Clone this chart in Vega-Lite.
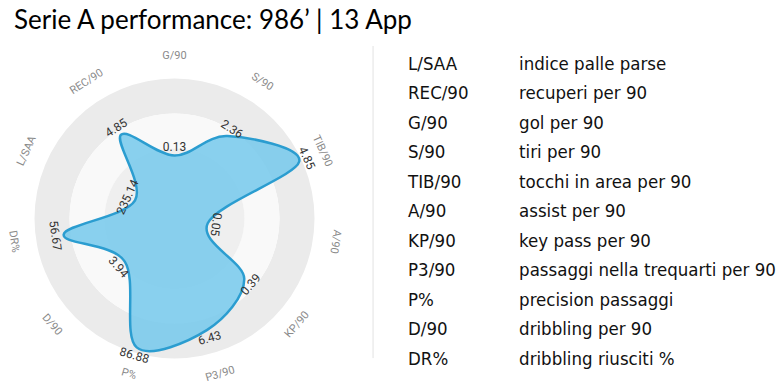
{
  "$schema": "https://vega.github.io/schema/vega-lite/v6.json",
  "autosize": {"type": "pad"},
  "padding": {"left": 1, "top": 8, "right": 0, "bottom": 0},
  "background": "white",
  "title": {"text": "Serie A performance: 986’ | 13 App", "anchor": "start", "font": "Lato", "fontSize": 26, "fontWeight": "normal", "color": "#000000", "offset": 11, "dx": 13},
  "config": {"view": {"stroke": null}},
  "datasets": {
    "radar": [
      {"idx": 0, "key": "G/90", "value": "0.13", "score": 0.45},
      {"idx": 1, "key": "S/90", "value": "2.36", "score": 0.70},
      {"idx": 2, "key": "TIB/90", "value": "4.85", "score": 0.98},
      {"idx": 3, "key": "A/90", "value": "0.05", "score": 0.24},
      {"idx": 4, "key": "KP/90", "value": "0.39", "score": 0.66},
      {"idx": 5, "key": "P3/90", "value": "6.43", "score": 0.83},
      {"idx": 6, "key": "P%", "value": "86.88", "score": 0.96},
      {"idx": 7, "key": "D/90", "value": "3.94", "score": 0.47},
      {"idx": 8, "key": "DR%", "value": "56.67", "score": 0.80},
      {"idx": 9, "key": "L/SAA", "value": "235.14", "score": 0.31},
      {"idx": 10, "key": "REC/90", "value": "4.85", "score": 0.71}
    ],
    "rings": [
      {"inner": 0.75, "outer": 1.0, "band": "outer"},
      {"inner": 0.5, "outer": 0.75, "band": "mid"},
      {"inner": 0.25, "outer": 0.5, "band": "inner"},
      {"inner": 0.0, "outer": 0.25, "band": "core"}
    ],
    "table": [
      {"row": 0, "abbr": "L/SAA", "desc": "indice palle parse"},
      {"row": 1, "abbr": "REC/90", "desc": "recuperi per 90"},
      {"row": 2, "abbr": "G/90", "desc": "gol per 90"},
      {"row": 3, "abbr": "S/90", "desc": "tiri per 90"},
      {"row": 4, "abbr": "TIB/90", "desc": "tocchi in area per 90"},
      {"row": 5, "abbr": "A/90", "desc": "assist per 90"},
      {"row": 6, "abbr": "KP/90", "desc": "key pass per 90"},
      {"row": 7, "abbr": "P3/90", "desc": "passaggi nella trequarti per 90"},
      {"row": 8, "abbr": "P%", "desc": "precision passaggi"},
      {"row": 9, "abbr": "D/90", "desc": "dribbling per 90"},
      {"row": 10, "abbr": "DR%", "desc": "dribbling riusciti %"}
    ],
    "sep": [{"y0": -0.61, "y1": 9.97}]
  },
  "hconcat": [
    {
      "width": 347,
      "height": 347,
      "layer": [
        {
          "data": {"name": "rings"},
          "mark": {"type": "arc", "theta": 0, "theta2": 6.2832},
          "encoding": {
            "radius": {"field": "outer", "type": "quantitative", "scale": {"type": "linear", "domain": [0, 1.24], "range": [0, 173.6], "zero": true}},
            "radius2": {"field": "inner"},
            "color": {"field": "band", "type": "nominal", "legend": null, "scale": {"domain": ["outer", "mid", "inner", "core"], "range": ["#ebebeb", "#f9f9f9", "#efefef", "#f4f4f4"]}}
          }
        },
        {
          "data": {"name": "radar"},
          "transform": [
            {"calculate": "datum.idx * 2 * PI / 11", "as": "a"},
            {"calculate": "datum.score * sin(datum.a)", "as": "px"},
            {"calculate": "datum.score * cos(datum.a)", "as": "py"}
          ],
          "mark": {"type": "line", "interpolate": "cardinal-closed", "fill": "#7ccbec", "fillOpacity": 0.9, "stroke": "#2b9dd0", "strokeWidth": 2.5},
          "encoding": {
            "x": {"field": "px", "type": "quantitative", "scale": {"domain": [-1.24, 1.24]}, "axis": null},
            "y": {"field": "py", "type": "quantitative", "scale": {"domain": [-1.24, 1.24]}, "axis": null},
            "order": {"field": "idx"}
          }
        },
        {
          "data": {"name": "radar"},
          "transform": [
            {"calculate": "datum.idx * 2 * PI / 11", "as": "a"},
            {"calculate": "datum.idx * 360 / 11", "as": "deg"},
            {"calculate": "datum.deg <= 100 ? datum.deg : (datum.deg < 270 ? datum.deg - 180 : datum.deg - 360)", "as": "rot"},
            {"calculate": "1.16 * sin(datum.a)", "as": "px"},
            {"calculate": "1.16 * cos(datum.a)", "as": "py"}
          ],
          "mark": {"type": "text", "font": "Roboto", "fontSize": 11, "color": "#8a8a8a", "baseline": "middle", "align": "center"},
          "encoding": {
            "x": {"field": "px", "type": "quantitative", "scale": {"domain": [-1.24, 1.24]}, "axis": null},
            "y": {"field": "py", "type": "quantitative", "scale": {"domain": [-1.24, 1.24]}, "axis": null},
            "text": {"field": "key"},
            "angle": {"field": "rot", "type": "quantitative", "scale": null}
          }
        },
        {
          "data": {"name": "radar"},
          "transform": [
            {"calculate": "datum.idx * 2 * PI / 11", "as": "a"},
            {"calculate": "datum.idx * 360 / 11", "as": "deg"},
            {"calculate": "datum.deg <= 100 ? datum.deg : (datum.deg < 270 ? datum.deg - 180 : datum.deg - 360)", "as": "rot"},
            {"calculate": "(datum.score + 0.06) * sin(datum.a)", "as": "px"},
            {"calculate": "(datum.score + 0.06) * cos(datum.a)", "as": "py"}
          ],
          "mark": {"type": "text", "font": "Roboto", "fontSize": 12, "color": "#333333", "baseline": "middle", "align": "center"},
          "encoding": {
            "x": {"field": "px", "type": "quantitative", "scale": {"domain": [-1.24, 1.24]}, "axis": null},
            "y": {"field": "py", "type": "quantitative", "scale": {"domain": [-1.24, 1.24]}, "axis": null},
            "text": {"field": "value"},
            "angle": {"field": "rot", "type": "quantitative", "scale": null}
          }
        }
      ]
    },
    {
      "width": 432,
      "height": 347,
      "layer": [
        {
          "data": {"name": "sep"},
          "mark": {"type": "rule", "color": "#e2e2e2", "strokeWidth": 1},
          "encoding": {
            "x": {"datum": 0.058, "type": "quantitative", "scale": {"domain": [0, 1]}, "axis": null},
            "y": {"field": "y0", "type": "quantitative", "scale": {"domain": [-0.644, 11.119], "reverse": true}, "axis": null},
            "y2": {"field": "y1"}
          }
        },
        {
          "data": {"name": "table"},
          "mark": {"type": "text", "font": "DejaVu Sans Condensed, Roboto", "fontSize": 18.5, "color": "#111111", "align": "left", "baseline": "middle"},
          "encoding": {
            "x": {"datum": 0.139, "type": "quantitative", "scale": {"domain": [0, 1]}, "axis": null},
            "y": {"field": "row", "type": "quantitative", "scale": {"domain": [-0.644, 11.119], "reverse": true}, "axis": null},
            "text": {"field": "abbr"}
          }
        },
        {
          "data": {"name": "table"},
          "mark": {"type": "text", "font": "DejaVu Sans Condensed, Roboto", "fontSize": 18.5, "color": "#111111", "align": "left", "baseline": "middle"},
          "encoding": {
            "x": {"datum": 0.396, "type": "quantitative", "scale": {"domain": [0, 1]}, "axis": null},
            "y": {"field": "row", "type": "quantitative", "scale": {"domain": [-0.644, 11.119], "reverse": true}, "axis": null},
            "text": {"field": "desc"}
          }
        }
      ]
    }
  ],
  "spacing": 0
}
